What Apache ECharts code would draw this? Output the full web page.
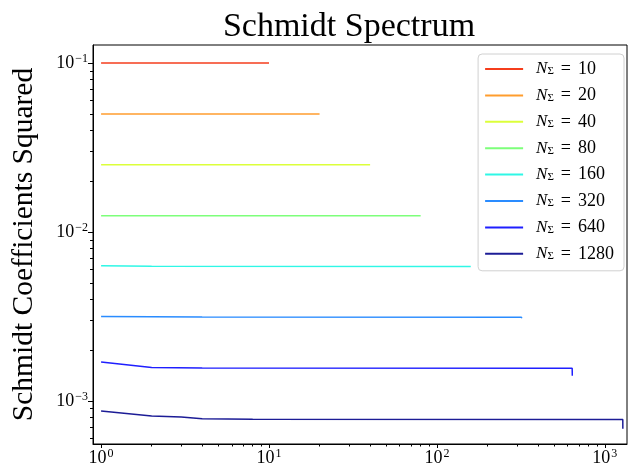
<!DOCTYPE html>
<html>
<head>
<meta charset="utf-8">
<script src="https://cdn.jsdelivr.net/npm/echarts@6/dist/echarts.min.js"></script>
<style>
  html, body { margin: 0; padding: 0; background: #fff; }
  #chart { width: 631px; height: 470px; }
</style>
</head>
<body>
<div id="chart"></div>
<script>
// series: [index, coefficient squared] key points
const sizes = [10, 20, 40, 80, 160, 320, 640, 1280];
const n10 = [[1, 0.1], [10, 0.1]];
const n20 = [[1, 0.05], [20, 0.05]];
const n40 = [[1, 0.025], [40, 0.025]];
const n80 = [[1, 0.0125], [80, 0.0125]];
const n160 = [[1, 6.32e-3], [2, 6.27e-3], [159, 6.25e-3], [160, 6.23e-3]];
const n320 = [[1, 3.16e-3], [4, 3.135e-3], [319, 3.125e-3], [320, 3.09e-3]];
const n640 = [[1, 1.70e-3], [2, 1.577e-3], [4, 1.565e-3], [639, 1.562e-3], [640, 1.41e-3]];
const n1280 = [[1, 8.72e-4], [2, 8.15e-4], [3, 8.03e-4], [4, 7.85e-4], [8, 7.8e-4], [1279, 7.76e-4], [1280, 6.85e-4]];
const seriesData = [n10, n20, n40, n80, n160, n320, n640, n1280];
const colors = ['#f53d1c', '#ff9d2e', '#dcff3a', '#7dff7a', '#2ff7e6', '#2a8cff', '#1f1fff', '#1c1c96'];

// tick positions
const xMajor = [1, 10, 100, 1000];
const xMinor = [2, 3, 4, 5, 6, 7, 8, 9, 20, 30, 40, 50, 60, 70, 80, 90, 200, 300, 400, 500, 600, 700, 800, 900];
const yMajor = [0.001, 0.01, 0.1];
const yMinor = [6e-4, 7e-4, 8e-4, 9e-4, 2e-3, 3e-3, 4e-3, 5e-3, 6e-3, 7e-3, 8e-3, 9e-3, 0.02, 0.03, 0.04, 0.05, 0.06, 0.07, 0.08, 0.09];

const xMin = 0.895, xMax = 1355;
const yMin = 5.56e-4, yMax = 0.128;

const serif = "'Liberation Serif', 'DejaVu Serif', serif";

function powLabel(v) {
  const e = Math.round(Math.log10(v));
  return '{b|10}{s|' + (e < 0 ? '\u2212' + (-e) : e) + '}';
}

const labelRich = {
  b: { fontFamily: serif, fontSize: 18, color: '#000' },
  s: { fontFamily: serif, fontSize: 12, color: '#000', verticalAlign: 'top', padding: [0, 0, 9, 1] }
};

const chart = echarts.init(document.getElementById('chart'));

const option = {
  animation: false,
  title: {
    text: 'Schmidt Spectrum',
    left: 344,
    textAlign: 'center',
    top: 5,
    textStyle: { fontFamily: serif, fontSize: 34, fontWeight: 'normal', color: '#000' }
  },
  grid: {
    left: 93, right: 4, top: 45, bottom: 26,
    show: true, borderColor: '#000', borderWidth: 1, backgroundColor: 'transparent'
  },
  legend: {
    orient: 'vertical',
    right: 7,
    top: 54,
    backgroundColor: '#fff',
    borderColor: '#d0d0d0',
    borderWidth: 1,
    borderRadius: 4,
    padding: [6, 10, 8, 7],
    itemWidth: 38,
    itemHeight: 2,
    itemGap: 8.4,
    icon: 'rect',
    data: sizes.map(n => 'N' + n),
    formatter: name => '{n|N}{sub|\u03a3}{eq|=}{t|' + name.slice(1) + '}',
    textStyle: {
      lineHeight: 16,
      padding: [0, 0, 0, 8],
      rich: {
        n: { fontFamily: serif, fontStyle: 'italic', fontSize: 17, color: '#000' },
        sub: { fontFamily: serif, fontSize: 11, color: '#000', verticalAlign: 'bottom', padding: [6, 0, 0, 0] },
        eq: { fontFamily: serif, fontSize: 18, color: '#000', padding: [0, 7, 0, 7] },
        t: { fontFamily: serif, fontSize: 18, color: '#000' }
      }
    }
  },
  xAxis: [
    {
      type: 'log', logBase: 10, min: xMin, max: xMax, position: 'bottom',
      axisLine: { show: true, onZero: false, lineStyle: { color: '#000', width: 1 } },
      splitLine: { show: false },
      axisTick: { show: true, length: 4, customValues: xMajor, lineStyle: { color: '#000' } },
      axisLabel: { customValues: xMajor, formatter: powLabel, rich: labelRich, margin: 4 }
    },
    {
      type: 'log', logBase: 10, min: xMin, max: xMax, position: 'bottom',
      axisLine: { show: false },
      splitLine: { show: false },
      axisTick: { show: true, length: 2.5, customValues: xMinor, lineStyle: { color: '#000' } },
      axisLabel: { show: false }
    }
  ],
  yAxis: [
    {
      type: 'log', logBase: 10, min: yMin, max: yMax, position: 'left',
      name: 'Schmidt Coefficients Squared',
      nameLocation: 'middle',
      nameGap: 54,
      nameRotate: 90,
      nameTextStyle: { fontFamily: serif, fontSize: 29.5, color: '#000' },
      axisLine: { show: true, onZero: false, lineStyle: { color: '#000', width: 1 } },
      splitLine: { show: false },
      axisTick: { show: true, length: 5, customValues: yMajor, lineStyle: { color: '#000' } },
      axisLabel: { customValues: yMajor, formatter: powLabel, rich: labelRich, margin: 5 }
    },
    {
      type: 'log', logBase: 10, min: yMin, max: yMax, position: 'left',
      axisLine: { show: false },
      splitLine: { show: false },
      axisTick: { show: true, length: 3, customValues: yMinor, lineStyle: { color: '#000' } },
      axisLabel: { show: false }
    }
  ],
  series: seriesData.map((d, i) => ({
    name: 'N' + sizes[i],
    type: 'line',
    xAxisIndex: 0,
    yAxisIndex: 0,
    data: d,
    showSymbol: false,
    symbol: 'none',
    color: colors[i],
    lineStyle: { width: 1.5, color: colors[i] },
    z: 2
  }))
};

chart.setOption(option);
</script>
</body>
</html>
